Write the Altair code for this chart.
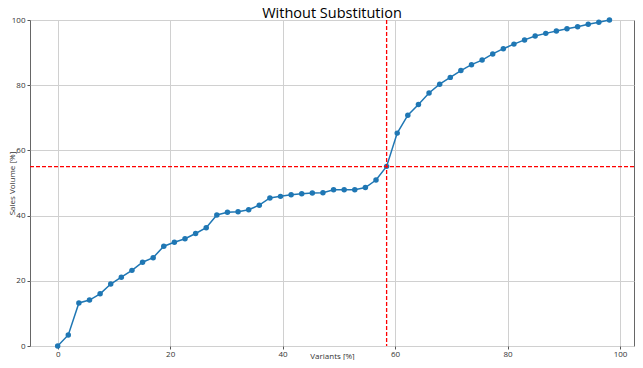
import altair as alt
import pandas as pd

sales = [0.0, 3.4, 13.2, 14.1, 16.0, 19.0, 21.1, 23.2, 25.7, 27.1,
         30.6, 31.8, 32.9, 34.5, 36.3, 40.2, 41.0, 41.2, 41.8, 43.2,
         45.4, 45.9, 46.4, 46.7, 46.9, 47.0, 47.9, 47.9, 47.9, 48.6,
         50.9, 55.1, 65.3, 70.8, 74.1, 77.6, 80.3, 82.4, 84.5, 86.3,
         87.7, 89.6, 91.2, 92.6, 93.9, 95.1, 95.9, 96.6, 97.3, 97.9,
         98.7, 99.3, 100.0]
variants = [i * 100 / 53 for i in range(len(sales))]
cut_x = [variants[31]]
cut_y = [55]

df = pd.DataFrame({"Variants": variants, "Sales": sales})

xscale = alt.Scale(domain=[-4.92, 102.48], nice=False, zero=False)
yscale = alt.Scale(domain=[0, 100], nice=False)

common = dict(grid=True, gridColor="#d0d0d0", labelFontSize=8, titleFontSize=8,
              labelColor="#333", titleColor="#333", tickColor="#555",
              domain=False, titleFontWeight="normal", labelFont="Open Sans",
              titleFont="Open Sans", tickSize=3)
xaxis = alt.Axis(title="Variants [%]", values=[0, 20, 40, 60, 80, 100],
                 labelPadding=1, titleY=6, titleBaseline="top", titleAnchor="middle",
                 **common)
yaxis = alt.Axis(title="Sales Volume [%]", values=[0, 20, 40, 60, 80, 100],
                 labelPadding=2, titleX=-14, titleY=163, titleAnchor="middle", **common)

base = alt.Chart(df)
line = base.mark_line(color="#1f77b4", strokeWidth=1.5).encode(
    x=alt.X("Variants:Q", scale=xscale, axis=xaxis),
    y=alt.Y("Sales:Q", scale=yscale, axis=yaxis),
)
pts = base.mark_circle(color="#1f77b4", size=30, opacity=1).encode(
    x=alt.X("Variants:Q", scale=xscale),
    y=alt.Y("Sales:Q", scale=yscale),
)
vline = alt.Chart(pd.DataFrame({"x": cut_x})).mark_rule(
    color="red", strokeDash=[4, 2], strokeWidth=1.3).encode(x=alt.X("x:Q", scale=xscale))
hline = alt.Chart(pd.DataFrame({"y": cut_y})).mark_rule(
    color="red", strokeDash=[4, 2], strokeWidth=1.3).encode(y=alt.Y("y:Q", scale=yscale))

chart = alt.layer(line, pts, vline, hline).properties(
    width=604, height=326,
    title=alt.TitleParams("Without Substitution", fontSize=14.5, font="Open Sans",
                          fontWeight="normal", color="#000", anchor="middle",
                          offset=0, dy=5),
    autosize=alt.AutoSizeParams(type="none"),
    padding={"left": 22, "top": 12, "right": 1, "bottom": 14},
).configure_view(stroke="#666", strokeWidth=1)

chart.save("out.html", embed_options={"renderer": "svg", "actions": False})
